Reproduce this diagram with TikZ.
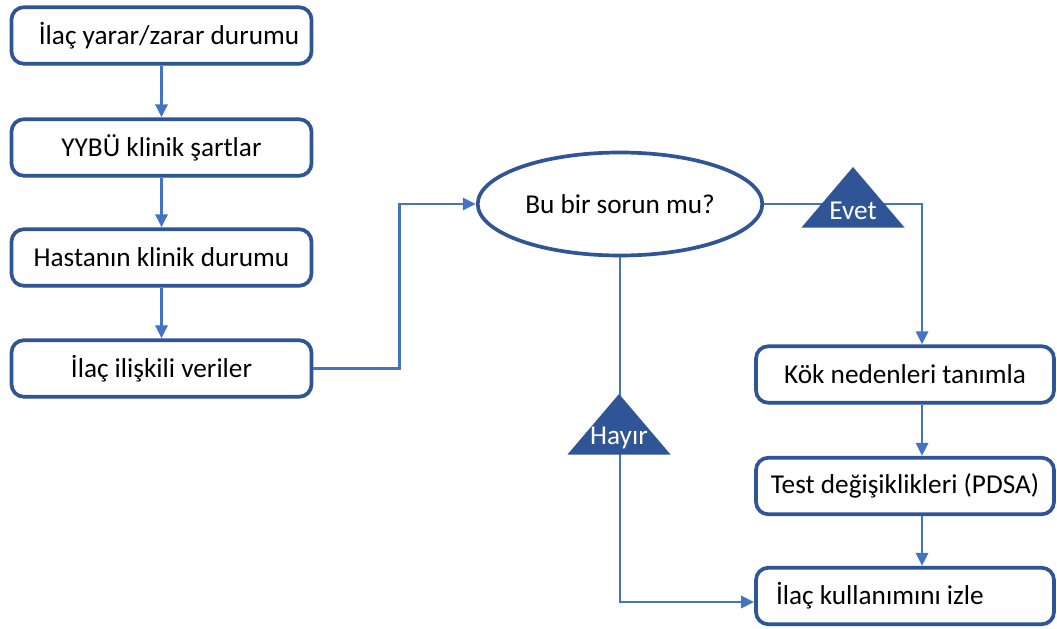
\documentclass[tikz,border=0pt]{standalone}
\usepackage{fontspec}
\setmainfont{Carlito}
\usetikzlibrary{shapes.geometric,arrows.meta,shadows}

\definecolor{boxblue}{HTML}{2F5597}
\definecolor{lineblue}{HTML}{4472C4}

\begin{document}
\begin{tikzpicture}[
    box/.style={draw=boxblue, line width=2.1pt, rounded corners=7pt, fill=white,
        minimum width=6.0cm, minimum height=1.13cm,
        drop shadow={shadow xshift=0.7pt, shadow yshift=-1pt, opacity=0.25}},
    question/.style={ellipse, draw=boxblue, line width=2.1pt, fill=white,
        minimum width=5.36cm, minimum height=2.06cm,
        drop shadow={shadow xshift=0.7pt, shadow yshift=-1pt, opacity=0.25}},
    link/.style={draw=lineblue, line width=1.6pt},
    arrow/.style={link, -{Triangle[length=2.6mm, width=2.4mm]}},
    flag/.style={fill=boxblue},
    flagtext/.style={text=white},
    every node/.style={font=\fontsize{15.5}{18}\selectfont}
]

\def\W{21.14}     % picture width
\def\H{12.56}     % picture height
\def\triw{1.03}   % half base of a flag
\def\trih{1.21}   % height of a flag

\useasboundingbox (0,0) rectangle (\W,-\H);

% left column
\node[box] (harm)  at (3.23,-0.71) {\hspace{0.3cm}İlaç yarar/zarar durumu};
\node[box] (icu)   at (3.23,-2.95) {YYBÜ klinik şartlar};
\node[box] (state) at (3.23,-5.15) {Hastanın klinik durumu};
\node[box] (data)  at (3.23,-7.37) {İlaç ilişkili veriler\hspace{0.3cm}};

% question
\node[question] (q) at (12.4,-4.08) {Bu bir sorun mu?};

% right column
\node[box, minimum width=5.96cm] (root) at (18.1,-7.49) {Kök nedenleri tanımla};
\node[box, minimum width=5.96cm] (pdsa) at (18.1,-9.72) {Test değişiklikleri (PDSA)};
\node[box, minimum width=5.96cm, text width=5.16cm, inner xsep=0.4cm, align=flush left]
    (watch) at (18.1,-11.92) {İlaç kullanımını izle};

\coordinate (col) at (18.44,0);

\draw[arrow] (harm) -- (icu);
\draw[arrow] (icu) -- (state);
\draw[arrow] (state) -- (data);

\draw[arrow] (data.east) -- ++(1.72,0) |- (q.west);

\draw[arrow] (q.east) -| (root.north -| col);
\draw[arrow] (q.south) |- ([yshift=-0.12cm]watch.west);

\draw[arrow] (root.south -| col) -- (pdsa.north -| col);
\draw[arrow] (pdsa.south -| col) -- (watch.north -| col);

% flags
\coordinate (yes) at (17.06,-3.34);
\coordinate (no)  at (12.38,-7.88);

\fill[flag] (yes) -- ++(-\triw,-\trih) -- ++(2*\triw,0) -- cycle;
\fill[flag] (no) -- ++(-\triw,-\trih) -- ++(2*\triw,0) -- cycle;

\node[flagtext] (yeslabel) at ([yshift=-0.88cm]yes) {Evet};
\node[flagtext] (nolabel)  at ([yshift=-0.88cm]no) {Hayır};
\end{tikzpicture}
\end{document}
